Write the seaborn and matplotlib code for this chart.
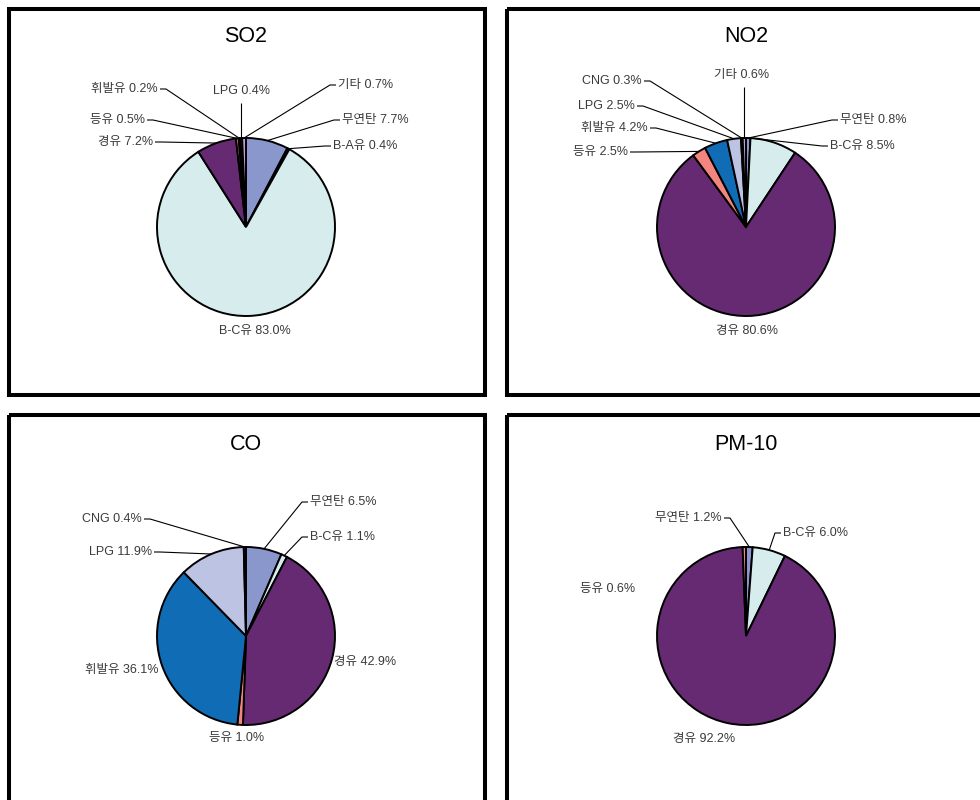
import numpy as np
import matplotlib
matplotlib.use("Agg")
import matplotlib.pyplot as plt
from matplotlib.patches import Rectangle
import seaborn as sns

# Emission shares (%) by fuel type for each pollutant
so2_labels = ["무연탄", "B-A유", "B-C유", "경유", "등유", "휘발유", "LPG", "기타"]
so2_values = [7.7, 0.4, 83.0, 7.2, 0.5, 0.2, 0.4, 0.7]

no2_labels = ["무연탄", "B-C유", "경유", "등유", "휘발유", "LPG", "CNG", "기타"]
no2_values = [0.8, 8.5, 80.6, 2.5, 4.2, 2.5, 0.3, 0.6]

co_labels = ["무연탄", "B-C유", "경유", "등유", "휘발유", "LPG", "CNG"]
co_values = [6.5, 1.1, 42.9, 1.0, 36.1, 11.9, 0.4]

pm10_labels = ["무연탄", "B-C유", "경유", "등유"]
pm10_values = [1.2, 6.0, 92.2, 0.6]

titles = ["SO2", "NO2", "CO", "PM-10"]

fuel_colors = {
    "무연탄": "#8a97cc",
    "B-A유": "#2b2b6e",
    "B-C유": "#d6eced",
    "경유": "#652a71",
    "등유": "#f3857e",
    "휘발유": "#106db5",
    "LPG": "#bcc3e3",
    "CNG": "#1d3283",
    "기타": "#c79bd3",
}

sns.set_theme(style="white")
plt.rcParams["font.family"] = ["Noto Sans CJK KR", "DejaVu Sans"]
label_family = ["Liberation Sans", "Noto Sans CJK KR", "DejaVu Sans"]

fig = plt.figure(figsize=(9.8, 8.0), dpi=100)
ax = fig.add_axes([0, 0, 1, 1])

# Panel frames (pixel space, y downward)
frames = [(9, 9, 476, 386), (507, 9, 500, 386), (9, 415, 476, 500), (507, 415, 500, 500)]
for (fx, fy, fw, fh) in frames:
    ax.add_patch(Rectangle((fx, fy), fw, fh, fill=False, ec="black", lw=2.9, zorder=1))

centers = [(246, 227), (746, 227), (246, 636), (746, 636)]
title_pos = [(246, 37), (746, 37), (246, 445), (746, 445)]
radius = 89

# label layout per chart: label -> (x, y, ha, leader, anchor fraction within wedge)
layouts = [
    {
        "휘발유": (158, 89, "right", True, 0.5),
        "등유": (145, 120, "right", True, 0.5),
        "경유": (153, 142, "right", True, 0.5),
        "LPG": (241, 91, "center", True, 0.5),
        "기타": (338, 85, "left", True, 0.5),
        "무연탄": (342, 120, "left", True, 0.5),
        "B-A유": (333, 146, "left", True, 0.5),
        "B-C유": (255, 331, "center", False, 0.5),
    },
    {
        "CNG": (642, 81, "right", True, 0.5),
        "기타": (742, 75, "center", True, 0.5),
        "LPG": (635, 106, "right", True, 0.5),
        "휘발유": (648, 128, "right", True, 0.5),
        "등유": (628, 152, "right", True, 0.5),
        "무연탄": (840, 120, "left", True, 0.5),
        "B-C유": (830, 146, "left", True, 0.05),
        "경유": (747, 331, "center", False, 0.5),
    },
    {
        "무연탄": (310, 502, "left", True, 0.5),
        "B-C유": (310, 537, "left", True, 0.5),
        "경유": (334, 662, "left", False, 0.5),
        "등유": (237, 738, "center", False, 0.5),
        "휘발유": (158, 670, "right", False, 0.5),
        "LPG": (152, 552, "right", True, 0.5),
        "CNG": (142, 519, "right", True, 0.5),
    },
    {
        "무연탄": (722, 518, "right", True, 0.5),
        "B-C유": (783, 533, "left", True, 0.5),
        "등유": (580, 589, "left", False, 0.5),
        "경유": (704, 739, "center", False, 0.5),
    },
]

datasets = [(so2_labels, so2_values), (no2_labels, no2_values),
            (co_labels, co_values), (pm10_labels, pm10_values)]

text_color = "#3a3a3a"
for (labels, values), (cx, cy), title, tpos, layout in zip(datasets, centers, titles, title_pos, layouts):
    wedges, _ = ax.pie(values, colors=[fuel_colors[l] for l in labels],
                       startangle=-90, counterclock=True, center=(cx, cy), radius=radius,
                       wedgeprops=dict(edgecolor="black", linewidth=1.4))
    for w in wedges:
        w.set_zorder(3)
    ax.text(tpos[0], tpos[1], title, ha="center", va="center", fontsize=15.5,
            family=["Liberation Sans", "DejaVu Sans"], color="black")
    for lab, val, w in zip(labels, values, wedges):
        x, y, ha, leader, frac = layout[lab]
        ax.text(x, y, f"{lab} {val:.1f}%", ha=ha, va="center", fontsize=9,
                family=label_family, color=text_color, zorder=5)
        if not leader:
            continue
        theta = np.deg2rad(w.theta1 + frac * (w.theta2 - w.theta1))
        px, py = cx + radius * np.cos(theta), cy + radius * np.sin(theta)
        if ha == "right":
            xs, ys = [x + 2, x + 8, px], [y, y, py]
        elif ha == "left":
            xs, ys = [x - 2, x - 8, px], [y, y, py]
        else:
            xs, ys = [px, px], [y + 12, py]
        ax.plot(xs, ys, color="black", lw=0.8, zorder=4, solid_capstyle="butt")

ax.set_xlim(0, 980)
ax.set_ylim(800, 0)
ax.set_aspect("equal")
ax.axis("off")
fig.savefig("out.png", dpi=100)
